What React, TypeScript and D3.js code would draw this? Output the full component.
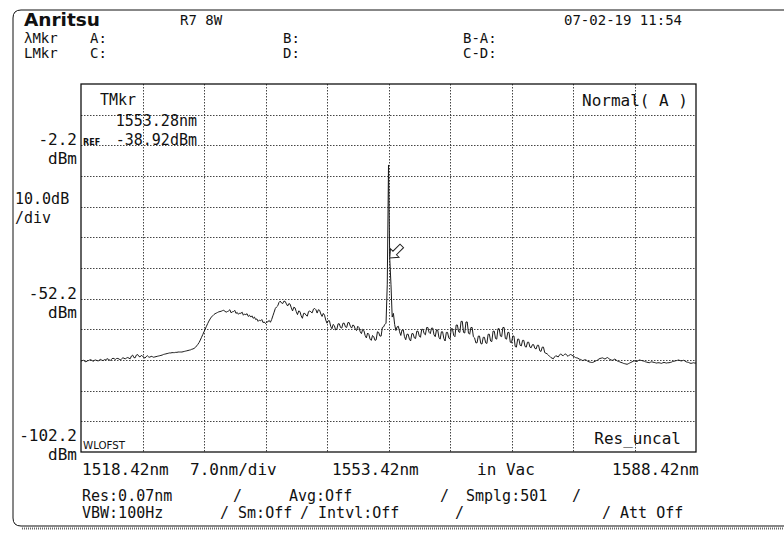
import React from 'react';
import * as d3 from 'd3';

const W = 784;
const H = 534;

// Axis settings
const wlStart = 1518.42;
const wlStop = 1588.42;
const wlPerDiv = 7.0;
const levelBottom = -102.2;
const levelTop = 17.8;
const dbPerDiv = 10.0;

// Trace: 501 samples (Smplg:501), 0.14 nm apart, starting at 1518.42 nm (levels in dBm)
const traceStartNm = 1518.42;
const traceStepNm = 0.14;
const traceDbm = [
  -72.6, -72.4, -72.3, -72.6, -72.8, -72.5, -72.4, -72.2, -72.1, -72.4,
  -72.6, -72.3, -72.2, -72.4, -72.5, -72.2, -72.0, -72.3, -72.4, -72.1,
  -72.1, -71.9, -71.8, -72.2, -72.3, -71.9, -71.6, -71.8, -72.0, -71.7,
  -71.7, -71.9, -72.2, -71.8, -71.5, -71.6, -71.9, -71.5, -71.4, -71.6,
  -71.8, -70.9, -70.6, -71.4, -71.5, -70.6, -70.4, -71.0, -71.2, -70.7,
  -70.9, -71.3, -71.6, -71.1, -70.8, -71.2, -71.3, -71.0, -71.1, -71.3,
  -71.2, -71.1, -71.0, -70.9, -70.8, -70.7, -70.6, -70.4, -70.3, -70.2,
  -70.1, -70.0, -69.9, -69.9, -69.8, -69.8, -69.8, -69.7, -69.7, -69.6,
  -69.6, -69.6, -69.6, -69.5, -69.4, -69.3, -69.2, -69.1, -69.0, -68.9,
  -68.7, -68.6, -68.4, -68.1, -67.6, -67.1, -66.5, -65.7, -64.8, -63.9,
  -63.0, -62.1, -61.2, -60.3, -59.5, -58.8, -58.2, -57.8, -57.4, -57.1,
  -56.9, -56.7, -56.5, -56.4, -56.3, -56.1, -56.0, -56.3, -56.6, -56.4,
  -56.2, -55.8, -56.8, -56.5, -56.4, -56.0, -57.0, -56.7, -57.3, -56.9,
  -57.0, -56.6, -57.6, -57.2, -57.4, -57.1, -58.0, -57.6, -58.2, -57.8,
  -58.6, -58.2, -59.0, -58.8, -59.6, -59.2, -59.4, -59.0, -60.0, -59.8,
  -60.3, -59.9, -59.7, -59.3, -59.9, -59.0, -57.8, -56.6, -55.4, -54.9,
  -54.5, -53.4, -53.0, -53.6, -53.8, -53.0, -53.1, -53.9, -54.6, -53.8,
  -54.0, -55.2, -56.2, -55.0, -55.2, -56.4, -57.4, -56.2, -56.4, -57.8,
  -58.6, -57.0, -57.0, -57.6, -57.9, -56.4, -56.2, -56.6, -56.8, -55.6,
  -55.4, -55.8, -56.9, -55.8, -56.0, -57.2, -58.0, -57.0, -57.6, -59.2,
  -60.2, -59.4, -59.4, -61.2, -62.0, -60.6, -61.0, -62.4, -62.2, -60.4,
  -60.4, -61.6, -61.8, -60.2, -60.2, -61.4, -61.6, -60.0, -60.0, -61.2,
  -61.8, -60.8, -61.0, -62.2, -62.6, -61.2, -61.6, -63.0, -63.6, -62.2,
  -62.6, -64.2, -65.0, -63.4, -63.8, -65.4, -65.8, -64.2, -64.6, -65.8,
  -65.6, -63.0, -63.2, -64.4, -64.4, -61.6, -61.4, -60.6, -60.2, -47.5,
  -8.6, -38.9, -47.5, -58.2, -57.0, -60.6, -62.6, -61.4, -61.2, -63.0,
  -64.2, -62.4, -62.4, -64.6, -65.6, -63.8, -63.8, -65.4, -66.0, -63.6,
  -63.6, -65.0, -65.2, -62.8, -62.8, -64.4, -64.8, -62.2, -62.2, -63.6,
  -64.0, -61.6, -61.6, -63.2, -63.6, -61.8, -61.8, -64.0, -64.6, -62.4,
  -62.4, -64.8, -65.4, -63.0, -63.0, -65.2, -66.0, -63.2, -63.2, -65.0,
  -65.4, -62.0, -62.0, -64.2, -64.6, -60.8, -60.8, -63.0, -63.2, -59.6,
  -59.6, -63.2, -63.4, -59.8, -59.8, -63.4, -63.8, -61.6, -61.6, -64.6,
  -65.0, -66.6, -66.6, -64.4, -64.4, -66.8, -67.0, -64.8, -64.8, -66.6,
  -66.8, -63.8, -63.8, -66.0, -66.2, -62.8, -62.8, -65.2, -65.4, -62.0,
  -62.0, -64.4, -64.6, -61.6, -61.6, -65.2, -65.4, -63.2, -63.2, -66.4,
  -66.6, -64.4, -64.4, -67.8, -68.0, -65.4, -65.4, -67.4, -67.6, -65.8,
  -65.8, -67.8, -68.0, -66.4, -66.4, -68.0, -68.2, -67.2, -67.2, -68.4,
  -68.6, -67.4, -67.4, -69.2, -69.4, -68.0, -68.0, -69.8, -70.0, -70.2,
  -70.6, -71.0, -71.4, -71.6, -71.8, -71.2, -70.8, -71.0, -71.2, -70.6,
  -70.2, -70.6, -70.8, -70.4, -70.2, -70.7, -71.0, -70.6, -70.4, -70.6,
  -70.9, -71.1, -71.4, -71.5, -71.6, -71.9, -72.0, -72.2, -72.4, -72.2,
  -72.1, -72.3, -72.6, -72.8, -72.9, -73.0, -73.0, -72.8, -72.6, -72.4,
  -72.2, -71.9, -71.7, -71.6, -71.5, -71.7, -71.9, -71.6, -71.4, -71.7,
  -72.0, -72.2, -72.3, -72.1, -71.9, -72.2, -72.5, -72.7, -72.8, -73.0,
  -73.1, -73.3, -73.4, -73.5, -73.6, -73.4, -73.2, -73.0, -72.8, -72.6,
  -72.5, -72.6, -72.7, -72.4, -72.2, -72.3, -72.4, -72.5, -72.6, -72.8,
  -72.9, -73.0, -73.1, -72.9, -72.8, -72.9, -73.0, -73.1, -73.2, -73.1,
  -73.1, -73.2, -73.3, -73.1, -73.0, -73.1, -73.2, -73.1, -73.1, -73.0,
  -72.9, -72.7, -72.6, -72.5, -72.4, -72.3, -72.2, -72.4, -72.5, -72.4,
  -72.3, -72.5, -72.8, -72.9, -73.0, -73.2, -73.3, -73.2, -73.1, -73.2, -73.2,
];

// Trace marker
const markerNm = 1553.28;
const markerDbm = -38.92;

// Texts
const headerTexts = ['R7 8W', '07-02-19 11:54'];
const lambdaRow = ['λMkr', 'A:', 'B:', 'B-A:'];
const levelRow = ['LMkr', 'C:', 'D:', 'C-D:'];
const levelLabels = ['-2.2', '-52.2', '-102.2'];
const levelLabelValues = [-2.2, -52.2, -102.2];
const scaleLabels = ['10.0dB', '/div'];
const wlLabels = ['1518.42nm', '7.0nm/div', '1553.42nm', 'in Vac', '1588.42nm'];
const statusRow1 = ['Res:0.07nm', '/', 'Avg:Off', '/', 'Smplg:501', '/'];
const statusRow2 = ['VBW:100Hz', '/ Sm:Off', '/ Intvl:Off', '/', '/ Att Off'];
const markerTexts = ['TMkr', '1553.28nm', '-38.92dBm'];

const MONO = '"DejaVu Sans Mono", monospace';
const SANS = '"DejaVu Sans", sans-serif';

const plot = { left: 81, right: 696, top: 84, bottom: 452 };

export default function App() {
  const x = d3.scaleLinear().domain([wlStart, wlStop]).range([plot.left, plot.right]);
  const y = d3.scaleLinear().domain([levelBottom, levelTop]).range([plot.bottom, plot.top]);

  const xDivs = Math.round((wlStop - wlStart) / wlPerDiv);
  const yDivs = Math.round((levelTop - levelBottom) / dbPerDiv);
  const xGrid = d3.range(1, xDivs).map((k) => wlStart + k * wlPerDiv);
  const yGrid = d3.range(1, yDivs).map((k) => levelBottom + k * dbPerDiv);

  const line = d3
    .line<number>()
    .x((_, i) => x(traceStartNm + i * traceStepNm))
    .y((d) => y(d));

  const mx = x(markerNm) + 2.5;
  const my = y(markerDbm);

  const wlLabelX = [82, 190, 332, 477, 612];
  const row1X = [82, 233, 289, 440, 466, 572];
  const row2X = [82, 220, 300, 455, 602];
  const colX = [24, 90, 283, 463];

  const txt = (s: string, px: number, py: number, size = 16, anchor: any = 'start', fam = MONO, extra: any = {}) => (
    <text key={s + px + py} x={px} y={py} fontSize={size} fontFamily={fam} textAnchor={anchor} fill="#111" {...extra}>
      {s}
    </text>
  );

  return (
    <svg width={W} height={H} style={{ position: 'absolute', left: 0, top: 0, background: '#fff' }}>
      <rect x={0} y={0} width={W} height={H} fill="#fff" />
      {/* outer frame */}
      <path d={`M ${W} 10 H 21 Q 13 10 13 18 V 518 Q 13 526 21 526 H ${W}`} fill="none" stroke="#111" strokeWidth={1} />
      <line x1={22} x2={W} y1={528.5} y2={528.5} stroke="#666" strokeWidth={2} strokeDasharray="1 1" />

      {/* header */}
      {txt('Anritsu', 24, 26, 17, 'start', SANS, { fontWeight: 'bold', textLength: 76, lengthAdjust: 'spacingAndGlyphs' })}
      {txt(headerTexts[0], 180, 25, 14)}
      {txt(headerTexts[1], 564, 25, 14)}
      {lambdaRow.map((s, i) => txt(s, colX[i], 43, 14))}
      {levelRow.map((s, i) => txt(s, colX[i], 58, 14))}

      {/* grid */}
      <g stroke="#444" strokeWidth={1} strokeDasharray="1.5 1.5">
        {xGrid.map((v) => (
          <line key={'gx' + v} x1={Math.round(x(v)) + 0.5} x2={Math.round(x(v)) + 0.5} y1={plot.top} y2={plot.bottom} />
        ))}
        {yGrid.map((v) => (
          <line key={'gy' + v} x1={plot.left} x2={plot.right} y1={Math.round(y(v)) + 0.5} y2={Math.round(y(v)) + 0.5} />
        ))}
      </g>
      <rect x={plot.left} y={plot.top} width={plot.right - plot.left} height={plot.bottom - plot.top} fill="none" stroke="#111" strokeWidth={1.3} />

      {/* trace */}
      <clipPath id="plotclip">
        <rect x={plot.left} y={plot.top} width={plot.right - plot.left} height={plot.bottom - plot.top} />
      </clipPath>
      <path d={line(traceDbm) || ''} fill="none" stroke="#1a1a1a" strokeWidth={1} clipPath="url(#plotclip)" />

      {/* marker arrow */}
      <path
        d="M0 0 L-6 -7 L-2.5 -7 L-2.5 -17 L2.5 -17 L2.5 -7 L6 -7 Z"
        transform={`translate(${mx},${my}) rotate(45)`}
        fill="#fff"
        stroke="#222"
        strokeWidth={1}
      />

      {/* in-plot texts */}
      {txt(markerTexts[0], 100, 105, 15)}
      {txt(markerTexts[1], 197, 126, 15, 'end')}
      {txt(markerTexts[2], 197, 145, 15, 'end')}
      {txt('REF', 83, 145, 8, 'start', SANS, { fontWeight: 'bold' })}
      {txt('Normal( A )', 688, 106, 16, 'end')}
      {txt('Res_uncal', 681, 444, 16, 'end')}
      {txt('WLOFST', 83, 449, 10, 'start', SANS, { textLength: 42, lengthAdjust: 'spacingAndGlyphs' })}

      {/* level labels */}
      {levelLabels.map((s, i) => {
        const yy = y(levelLabelValues[i]);
        const base = i === 2 ? yy - 11 : yy;
        return (
          <g key={s}>
            {txt(s, 77, base, 16, 'end')}
            {txt('dBm', 77, base + 19, 16, 'end')}
          </g>
        );
      })}
      {txt(scaleLabels[0], 15, 204, 15)}
      {txt(scaleLabels[1], 15, 223, 15)}

      {/* wavelength labels and status rows */}
      {wlLabels.map((s, i) => txt(s, wlLabelX[i], 475, 16))}
      {statusRow1.map((s, i) => txt(s, row1X[i], 501, 15))}
      {statusRow2.map((s, i) => txt(s, row2X[i], 518, 15))}
    </svg>
  );
}
